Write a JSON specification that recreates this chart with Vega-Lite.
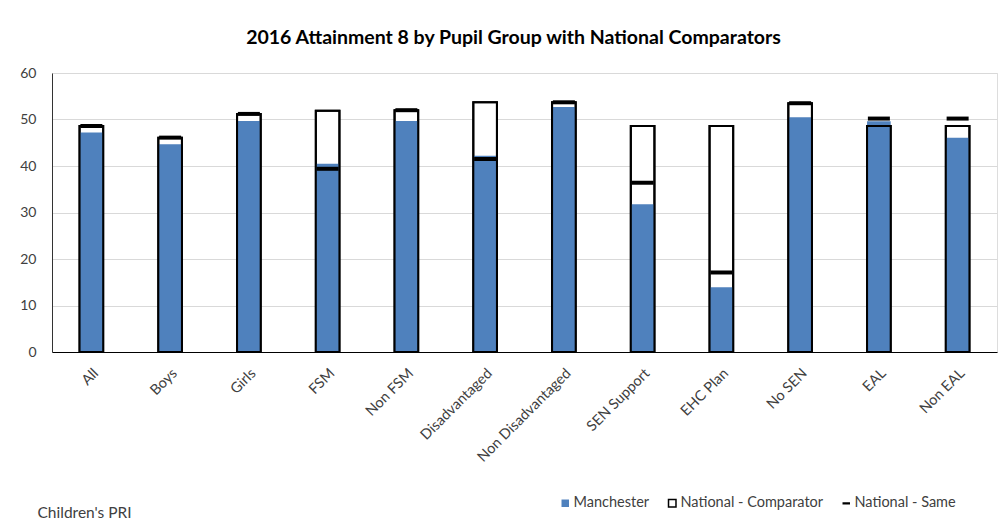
{
  "$schema": "https://vega.github.io/schema/vega-lite/v6.json",
  "autosize": "none",
  "width": 945,
  "height": 279,
  "padding": {"left": 52, "top": 73, "right": 8, "bottom": 177},
  "background": "white",
  "title": {
    "text": "2016 Attainment 8 by Pupil Group with National Comparators",
    "font": "Lato",
    "fontSize": 19.5,
    "fontWeight": "bold",
    "color": "#000000",
    "offset": 18,
    "dx": -11
  },
  "data": {
    "values": [
      {"group": "All", "manchester": 47.2, "comparator": 48.6, "same": 48.6},
      {"group": "Boys", "manchester": 44.7, "comparator": 46.1, "same": 46.1},
      {"group": "Girls", "manchester": 49.7, "comparator": 51.2, "same": 51.2},
      {"group": "FSM", "manchester": 40.5, "comparator": 51.9, "same": 39.4},
      {"group": "Non FSM", "manchester": 49.7, "comparator": 52.0, "same": 52.0},
      {"group": "Disadvantaged", "manchester": 42.2, "comparator": 53.7, "same": 41.5},
      {"group": "Non Disadvantaged", "manchester": 52.7, "comparator": 53.7, "same": 53.7},
      {"group": "SEN Support", "manchester": 31.8, "comparator": 48.6, "same": 36.4},
      {"group": "EHC Plan", "manchester": 13.9, "comparator": 48.6, "same": 17.1},
      {"group": "No SEN", "manchester": 50.5, "comparator": 53.5, "same": 53.5},
      {"group": "EAL", "manchester": 49.6, "comparator": 48.6, "same": 50.2},
      {"group": "Non EAL", "manchester": 46.1, "comparator": 48.6, "same": 50.2}
    ]
  },
  "encoding": {
    "x": {
      "field": "group",
      "type": "nominal",
      "sort": null,
      "scale": {"paddingInner": 0.7, "paddingOuter": 0.35},
      "axis": {
        "title": "Children's PRI",
        "titleFont": "Lato",
        "titleFontSize": 15.5,
        "titleFontWeight": "normal",
        "titleColor": "#404040",
        "titleAnchor": "start",
        "titleAlign": "left",
        "titleBaseline": "middle",
        "titleX": -15,
        "titleY": 160,
        "labelAngle": -45,
        "labelFont": "Lato",
        "labelFontSize": 14.5,
        "labelColor": "#404040",
        "labelPadding": 14,
        "ticks": false,
        "domainColor": "#000000",
        "domainWidth": 1,
        "grid": false
      }
    }
  },
  "layer": [
    {
      "mark": {"type": "bar", "stroke": "black", "strokeWidth": 2},
      "encoding": {
        "y": {
          "field": "comparator",
          "type": "quantitative",
          "scale": {"domain": [0, 60]},
          "axis": {
            "title": null,
            "values": [0, 10, 20, 30, 40, 50, 60],
            "labelFont": "Lato",
            "labelFontSize": 14,
            "labelColor": "#404040",
            "labelPadding": 16,
            "ticks": false,
            "domainColor": "#333333",
            "gridColor": "#d9d9d9",
            "gridWidth": 1
          }
        },
        "fill": {
          "datum": "National - Comparator",
          "type": "nominal",
          "scale": {
            "domain": ["Manchester", "National - Comparator", "National - Same"],
            "range": ["#4F81BD", "#ffffff", "#000000"]
          },
          "legend": {
            "title": null,
            "orient": "none",
            "direction": "horizontal",
            "legendX": 506,
            "legendY": 423,
            "labelFont": "Lato",
            "labelFontSize": 14.5,
            "labelColor": "#404040",
            "labelOffset": 1,
            "columnPadding": 15,
            "symbolSize": 56,
            "symbolType": "square",
            "encode": {
              "symbols": {
                "update": {
                  "shape": {"signal": "datum.value === 'National - Same' ? 'M-1,-0.3H1V0.3H-1Z' : 'square'"},
                  "stroke": {"signal": "datum.value === 'National - Comparator' ? 'black' : 'transparent'"},
                  "strokeWidth": {"value": 1.5}
                }
              }
            }
          }
        }
      }
    },
    {
      "mark": {"type": "bar"},
      "encoding": {
        "y": {"field": "manchester", "type": "quantitative"},
        "fill": {
          "datum": "Manchester",
          "type": "nominal",
          "legend": {
            "title": null,
            "orient": "none",
            "direction": "horizontal",
            "legendX": 506,
            "legendY": 423,
            "labelFont": "Lato",
            "labelFontSize": 14.5,
            "labelColor": "#404040",
            "labelOffset": 1,
            "columnPadding": 15,
            "symbolSize": 56,
            "symbolType": "square",
            "encode": {
              "symbols": {
                "update": {
                  "shape": {"signal": "datum.value === 'National - Same' ? 'M-1,-0.3H1V0.3H-1Z' : 'square'"},
                  "stroke": {"signal": "datum.value === 'National - Comparator' ? 'black' : 'transparent'"},
                  "strokeWidth": {"value": 1.5}
                }
              }
            }
          }
        }
      }
    },
    {
      "mark": {"type": "bar", "fill": null, "fillOpacity": 0, "stroke": "black", "strokeWidth": 2},
      "encoding": {
        "y": {"field": "comparator", "type": "quantitative"}
      }
    },
    {
      "mark": {"type": "tick", "size": 22, "thickness": 4, "opacity": 1},
      "encoding": {
        "y": {"field": "same", "type": "quantitative"},
        "fill": {
          "datum": "National - Same",
          "type": "nominal",
          "legend": {
            "title": null,
            "orient": "none",
            "direction": "horizontal",
            "legendX": 506,
            "legendY": 423,
            "labelFont": "Lato",
            "labelFontSize": 14.5,
            "labelColor": "#404040",
            "labelOffset": 1,
            "columnPadding": 15,
            "symbolSize": 56,
            "symbolType": "square",
            "encode": {
              "symbols": {
                "update": {
                  "shape": {"signal": "datum.value === 'National - Same' ? 'M-1,-0.3H1V0.3H-1Z' : 'square'"},
                  "stroke": {"signal": "datum.value === 'National - Comparator' ? 'black' : 'transparent'"},
                  "strokeWidth": {"value": 1.5}
                }
              }
            }
          }
        }
      }
    }
  ]
}
